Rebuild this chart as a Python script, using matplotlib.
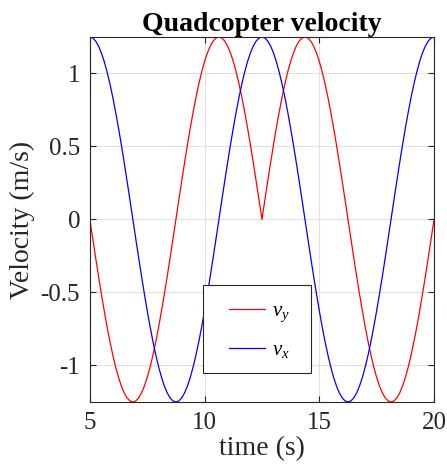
import numpy as np
import matplotlib
matplotlib.use("Agg")
import matplotlib.pyplot as plt
from matplotlib.patches import Rectangle

# time samples (s)
t = np.linspace(5, 20, 121)

vx = [1.25, 1.2432, 1.2227, 1.1888, 1.1419, 1.0825, 1.0113, 0.9289, 0.8364, 0.7347, 0.625, 0.5084, 0.3863, 0.2599, 0.1307, 0,
      -0.1307, -0.2599, -0.3863, -0.5084, -0.625, -0.7347, -0.8364, -0.9289, -1.0113, -1.0825, -1.1419, -1.1888, -1.2227, -1.2432, -1.25,
      -1.2432, -1.2227, -1.1888, -1.1419, -1.0825, -1.0113, -0.9289, -0.8364, -0.7347, -0.625, -0.5084, -0.3863, -0.2599, -0.1307, 0,
      0.1307, 0.2599, 0.3863, 0.5084, 0.625, 0.7347, 0.8364, 0.9289, 1.0113, 1.0825, 1.1419, 1.1888, 1.2227, 1.2432, 1.25,
      1.2432, 1.2227, 1.1888, 1.1419, 1.0825, 1.0113, 0.9289, 0.8364, 0.7347, 0.625, 0.5084, 0.3863, 0.2599, 0.1307, 0,
      -0.1307, -0.2599, -0.3863, -0.5084, -0.625, -0.7347, -0.8364, -0.9289, -1.0113, -1.0825, -1.1419, -1.1888, -1.2227, -1.2432, -1.25,
      -1.2432, -1.2227, -1.1888, -1.1419, -1.0825, -1.0113, -0.9289, -0.8364, -0.7347, -0.625, -0.5084, -0.3863, -0.2599, -0.1307, 0,
      0.1307, 0.2599, 0.3863, 0.5084, 0.625, 0.7347, 0.8364, 0.9289, 1.0113, 1.0825, 1.1419, 1.1888, 1.2227, 1.2432, 1.25]

vy = [0, -0.1307, -0.2599, -0.3863, -0.5084, -0.625, -0.7347, -0.8364, -0.9289, -1.0113, -1.0825, -1.1419, -1.1888, -1.2227, -1.2432, -1.25,
      -1.2432, -1.2227, -1.1888, -1.1419, -1.0825, -1.0113, -0.9289, -0.8364, -0.7347, -0.625, -0.5084, -0.3863, -0.2599, -0.1307, 0,
      0.1307, 0.2599, 0.3863, 0.5084, 0.625, 0.7347, 0.8364, 0.9289, 1.0113, 1.0825, 1.1419, 1.1888, 1.2227, 1.2432, 1.25,
      1.2432, 1.2227, 1.1888, 1.1419, 1.0825, 1.0113, 0.9289, 0.8364, 0.7347, 0.625, 0.5084, 0.3863, 0.2599, 0.1307, 0,
      0.1307, 0.2599, 0.3863, 0.5084, 0.625, 0.7347, 0.8364, 0.9289, 1.0113, 1.0825, 1.1419, 1.1888, 1.2227, 1.2432, 1.25,
      1.2432, 1.2227, 1.1888, 1.1419, 1.0825, 1.0113, 0.9289, 0.8364, 0.7347, 0.625, 0.5084, 0.3863, 0.2599, 0.1307, 0,
      -0.1307, -0.2599, -0.3863, -0.5084, -0.625, -0.7347, -0.8364, -0.9289, -1.0113, -1.0825, -1.1419, -1.1888, -1.2227, -1.2432, -1.25,
      -1.2432, -1.2227, -1.1888, -1.1419, -1.0825, -1.0113, -0.9289, -0.8364, -0.7347, -0.625, -0.5084, -0.3863, -0.2599, -0.1307, 0]

xticks = [5, 10, 15, 20]
yticks = [-1, -0.5, 0, 0.5, 1]
yticklabels = ["-1", "-0.5", "0", "0.5", "1"]

plt.rcParams['font.family'] = ['Liberation Serif', 'DejaVu Serif']
plt.rcParams['mathtext.fontset'] = 'custom'
plt.rcParams['mathtext.rm'] = 'Liberation Serif'
plt.rcParams['mathtext.it'] = 'Liberation Serif:italic'

fig = plt.figure(figsize=(4.47, 4.74), dpi=100)
ax = fig.add_axes([0.201, 0.152, 0.770, 0.770])

ax.plot(t, vy, color=(1, 0, 0), lw=0.9, label=r'$v_y$')
ax.plot(t, vx, color=(0, 0, 1), lw=0.9, label=r'$v_x$')

ax.set_xlim(5, 20)
ax.set_ylim(-1.25, 1.25)
ax.set_xticks(xticks)
ax.set_yticks(yticks)
ax.set_yticklabels(yticklabels)
ax.grid(True, color=(0.88, 0.88, 0.88), lw=0.8)
ax.set_axisbelow(True)
ax.tick_params(direction='in', top=True, right=True, labelsize=18, colors=(0.15, 0.15, 0.15),
               length=4, width=0.8, pad=7)
for s in ax.spines.values():
    s.set_color((0.15, 0.15, 0.15))
    s.set_linewidth(0.8)

ax.set_xlabel('time (s)', fontsize=20, color=(0.15, 0.15, 0.15), labelpad=2)
ax.set_ylabel('Velocity (m/s)', fontsize=20, color=(0.15, 0.15, 0.15), labelpad=4)
ax.set_title('Quadcopter velocity', fontsize=20, fontweight='bold', pad=4)

# legend frame
ax.add_patch(Rectangle((0.328, 0.0795), 0.314, 0.241, transform=ax.transAxes,
                       facecolor='white', edgecolor=(0.15, 0.15, 0.15), lw=0.8, zorder=4))
leg = ax.legend(loc='upper left', bbox_to_anchor=(0.404, 0.276), frameon=False,
                borderaxespad=0, borderpad=0, fontsize=15, handlelength=1.75,
                handletextpad=0.3, labelspacing=0.8)
leg.set_zorder(5)

fig.savefig('out.png', dpi=100)
